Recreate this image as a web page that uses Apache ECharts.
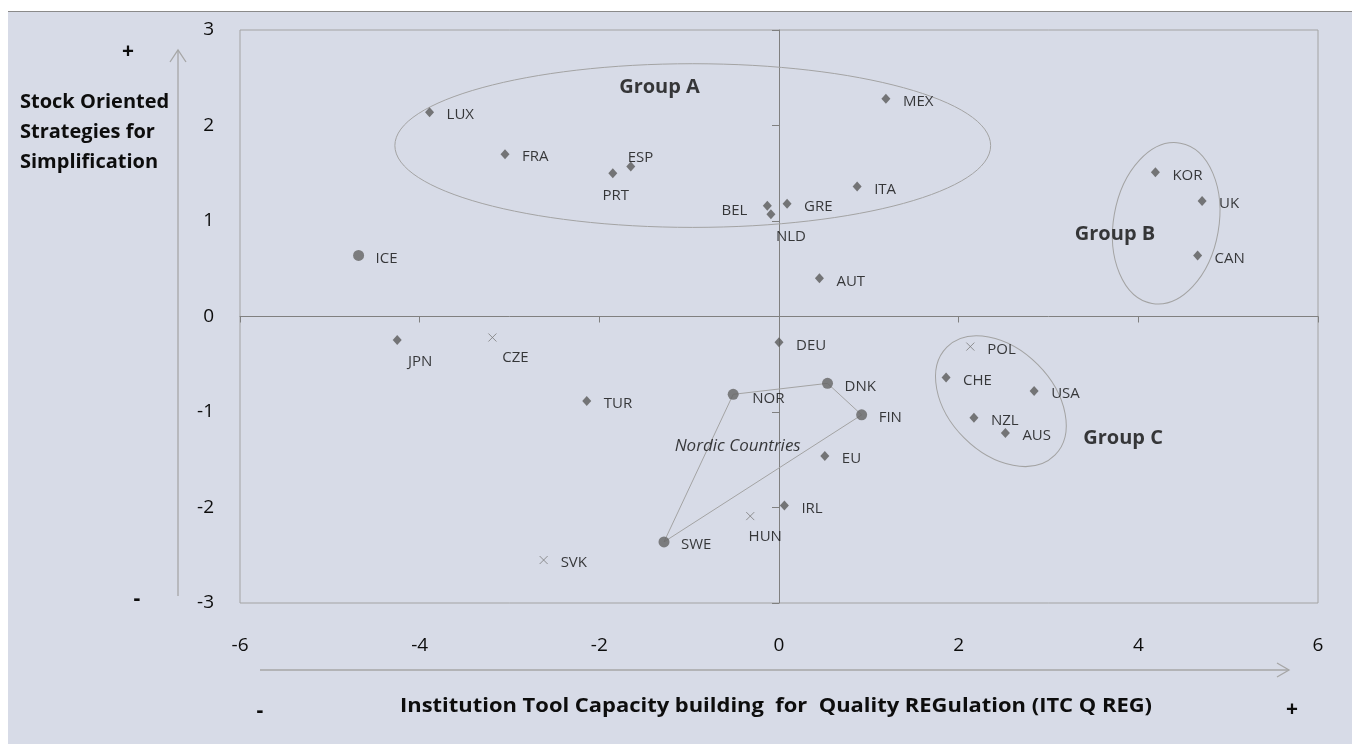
<!DOCTYPE html>
<html>
<head>
<meta charset="utf-8">
<script src="https://cdn.jsdelivr.net/npm/echarts@6/dist/echarts.min.js"></script>
<style>
html,body{margin:0;padding:0;background:#ffffff;}
#bg{position:absolute;left:8px;top:11px;width:1344px;height:733px;background:#D7DBE7;border-top:1px solid #8a8a8a;}
#chart{position:absolute;left:0;top:0;width:1352px;height:744px;}
</style>
</head>
<body>
<div id="bg"></div>
<div id="chart"></div>
<script>
// ---- data ----
const xTicks = [-6, -4, -2, 0, 2, 4, 6];
const yTicks = [-3, -2, -1, 0, 1, 2, 3];

// diamond markers
const diamondNames = ['LUX','FRA','PRT','ESP','BEL','NLD','GRE','ITA','MEX','AUT','KOR','UK','CAN','JPN','TUR','DEU','EU','IRL','CHE','USA','NZL','AUS'];
const diamondX     = [-3.89,-3.05,-1.85,-1.65,-0.13,-0.09,0.09,0.87,1.19,0.45,4.19,4.71,4.66,-4.25,-2.14,0.00,0.51,0.06,1.86,2.84,2.17,2.52];
const diamondY     = [2.14,1.70,1.50,1.57,1.16,1.07,1.18,1.36,2.28,0.40,1.51,1.21,0.64,-0.245,-0.885,-0.27,-1.46,-1.98,-0.64,-0.78,-1.06,-1.22];

// circle markers (ICE + Nordic countries)
const circleNames = ['ICE','NOR','DNK','FIN','SWE'];
const circleX     = [-4.68,-0.51,0.54,0.92,-1.28];
const circleY     = [0.64,-0.815,-0.70,-1.03,-2.36];

// cross markers
const crossNames = ['CZE','HUN','SVK','POL'];
const crossX     = [-3.19,-0.32,-2.62,2.13];
const crossY     = [-0.22,-2.09,-2.55,-0.315];

// Nordic polygon order
const nordicOrder = ['NOR','DNK','FIN','SWE','NOR'];

// group annotations
const groupNames = ['Group A','Group B','Group C'];
const groupX     = [-1.33, 3.74, 3.83];
const groupY     = [2.40, 0.86, -1.28];
const nordicLabel = ['Nordic Countries', -0.46, -1.36];

// ellipses: [centerX, centerY, radiusX, radiusY, rotationDeg]
const ellipseA = [-0.96, 1.79, 3.316, 0.857, 0];
const ellipseB = [4.31, 0.976, 0.586, 0.852, -10];
const ellipseC = [2.47, -0.887, 0.85, 0.544, -45];

// ---- styling of labels (offsets from marker centre, px) ----
const labelPlace = {
  PRT:[3,22,'center'], ESP:[-3,-9,'left'], BEL:[-20,5,'right'], NLD:[20,22,'center'],
  JPN:[23,22,'center'], CZE:[23,20,'center'], HUN:[15,21,'center'], NOR:[19,4,'left']
};
const FONT = '"Open Sans", Lato, sans-serif';
const INK = '#0d0d0d';

function buildPoints(names, xs, ys){
  return names.map((n,i)=>{
    const p = labelPlace[n] || [17,3,'left'];
    return {name:n, value:[xs[i], ys[i]],
      label:{offset:[p[0],p[1]], align:p[2]}};
  });
}

const labelBase = {show:true, position:'inside', formatter:'{b}', color:INK,
  fontFamily:FONT, fontSize:15, verticalAlign:'middle'};

const circleMap = {};
circleNames.forEach((n,i)=>{circleMap[n]=[circleX[i], circleY[i]];});

const ellipseRender = function(params, api){
  const c = api.coord([api.value(0), api.value(1)]);
  const s = api.size([api.value(2), api.value(3)]);
  return {type:'ellipse', x:c[0], y:c[1], rotation:api.value(4)*Math.PI/180,
    shape:{cx:0, cy:0, rx:s[0], ry:s[1]},
    style:{fill:'none', stroke:'#a3a3a3', lineWidth:1}};
};

// fit x-axis title to the reference width
const xTitle = 'Institution Tool Capacity building  for  Quality REGulation (ITC Q REG)';
const xTitleFont = 'bold 19px ' + FONT;
const cv = document.createElement('canvas').getContext('2d');
cv.font = xTitleFont;
let titleScale = 752 / Math.max(1, cv.measureText(xTitle).width);
titleScale = Math.min(1.35, Math.max(0.8, titleScale));

const chart = echarts.init(document.getElementById('chart'));
const option = {
  backgroundColor:'transparent',
  animation:false,
  textStyle:{fontFamily:FONT},
  grid:{left:240, top:30, right:34, bottom:141, show:true, borderColor:'#a3a3a3', borderWidth:1, backgroundColor:'transparent'},
  xAxis:[
    {type:'value', min:xTicks[0], max:xTicks[xTicks.length-1], interval:2, position:'bottom',
     axisLine:{show:false, onZero:false}, axisTick:{show:false}, splitLine:{show:false},
     axisLabel:{fontSize:19, color:INK, margin:33, fontFamily:FONT}},
    {type:'value', min:xTicks[0], max:xTicks[xTicks.length-1], interval:2, position:'bottom',
     axisLine:{show:true, onZero:true, onZeroAxisIndex:0, lineStyle:{color:'#808080', width:1}},
     axisTick:{show:true, length:6, lineStyle:{color:'#808080'}}, splitLine:{show:false},
     axisLabel:{show:false}}
  ],
  yAxis:[
    {type:'value', min:yTicks[0], max:yTicks[yTicks.length-1], interval:1, position:'left',
     axisLine:{show:false, onZero:false}, axisTick:{show:false}, splitLine:{show:false},
     axisLabel:{fontSize:19, color:INK, margin:26, fontFamily:FONT}},
    {type:'value', min:yTicks[0], max:yTicks[yTicks.length-1], interval:1, position:'left',
     axisLine:{show:true, onZero:true, onZeroAxisIndex:0, lineStyle:{color:'#808080', width:1}},
     axisTick:{show:true, length:7, lineStyle:{color:'#808080'}}, splitLine:{show:false},
     axisLabel:{show:false}}
  ],
  graphic:[
    {type:'text', left:20, top:87, style:{text:'Stock Oriented\nStrategies for\nSimplification', font:'bold 20px '+FONT, fill:INK, lineHeight:30}},
    {type:'text', x:128, y:52, style:{text:'+', font:'bold 21px '+FONT, fill:INK, align:'center', verticalAlign:'middle'}},
    {type:'text', x:137, y:599, style:{text:'-', font:'bold 21px '+FONT, fill:INK, align:'center', verticalAlign:'middle'}},
    {type:'text', x:776, y:707, scaleX:titleScale, style:{text:xTitle, font:xTitleFont, fill:INK, align:'center', verticalAlign:'middle'}},
    {type:'text', x:260, y:711, style:{text:'-', font:'bold 21px '+FONT, fill:INK, align:'center', verticalAlign:'middle'}},
    {type:'text', x:1292, y:710, style:{text:'+', font:'bold 21px '+FONT, fill:INK, align:'center', verticalAlign:'middle'}},
    {type:'line', shape:{x1:178, y1:596, x2:178, y2:50}, style:{stroke:'#a6a6a6', lineWidth:1.3}},
    {type:'polyline', shape:{points:[[170,62],[178,50],[186,62]]}, style:{stroke:'#a6a6a6', lineWidth:1.3, fill:'none'}},
    {type:'line', shape:{x1:260, y1:670, x2:1289, y2:670}, style:{stroke:'#a6a6a6', lineWidth:1.3}},
    {type:'polyline', shape:{points:[[1277,663],[1289,670],[1277,677]]}, style:{stroke:'#a6a6a6', lineWidth:1.3, fill:'none'}}
  ],
  series:[
    {type:'custom', name:'ellipses', xAxisIndex:0, yAxisIndex:0, renderItem:ellipseRender, clip:false,
     silent:true, data:[ellipseA, ellipseB, ellipseC], z:1},
    {type:'line', name:'Nordic', xAxisIndex:0, yAxisIndex:0, data:nordicOrder.map(n=>circleMap[n]),
     symbol:'none', lineStyle:{color:'#a3a3a3', width:1}, z:1, silent:true},
    {type:'scatter', name:'diamonds', xAxisIndex:0, yAxisIndex:0, symbol:'diamond', symbolSize:[9,10],
     itemStyle:{color:'#5a5a5a'}, label:labelBase, data:buildPoints(diamondNames, diamondX, diamondY), z:3},
    {type:'scatter', name:'circles', xAxisIndex:0, yAxisIndex:0, symbol:'circle', symbolSize:11,
     itemStyle:{color:'#646464'}, label:labelBase, data:buildPoints(circleNames, circleX, circleY), z:3},
    {type:'scatter', name:'crosses', xAxisIndex:0, yAxisIndex:0, symbol:'path://M0,0L10,10M10,0L0,10', symbolSize:8,
     itemStyle:{color:'none', borderColor:'#7a7a7a', borderWidth:1}, label:labelBase, data:buildPoints(crossNames, crossX, crossY), z:3},
    {type:'scatter', name:'groups', xAxisIndex:0, yAxisIndex:0, symbolSize:0, silent:true,
     label:{show:true, position:'inside', formatter:'{b}', color:INK, fontFamily:FONT, fontSize:20, fontWeight:'bold'},
     data:groupNames.map((n,i)=>({name:n, value:[groupX[i], groupY[i]]})), z:4},
    {type:'scatter', name:'nordicLabel', xAxisIndex:0, yAxisIndex:0, symbolSize:0, silent:true,
     label:{show:true, position:'inside', formatter:'{b}', color:INK, fontFamily:FONT, fontSize:17, fontStyle:'italic'},
     data:[{name:nordicLabel[0], value:[nordicLabel[1], nordicLabel[2]]}], z:4}
  ]
};
chart.setOption(option);
</script>
</body>
</html>
